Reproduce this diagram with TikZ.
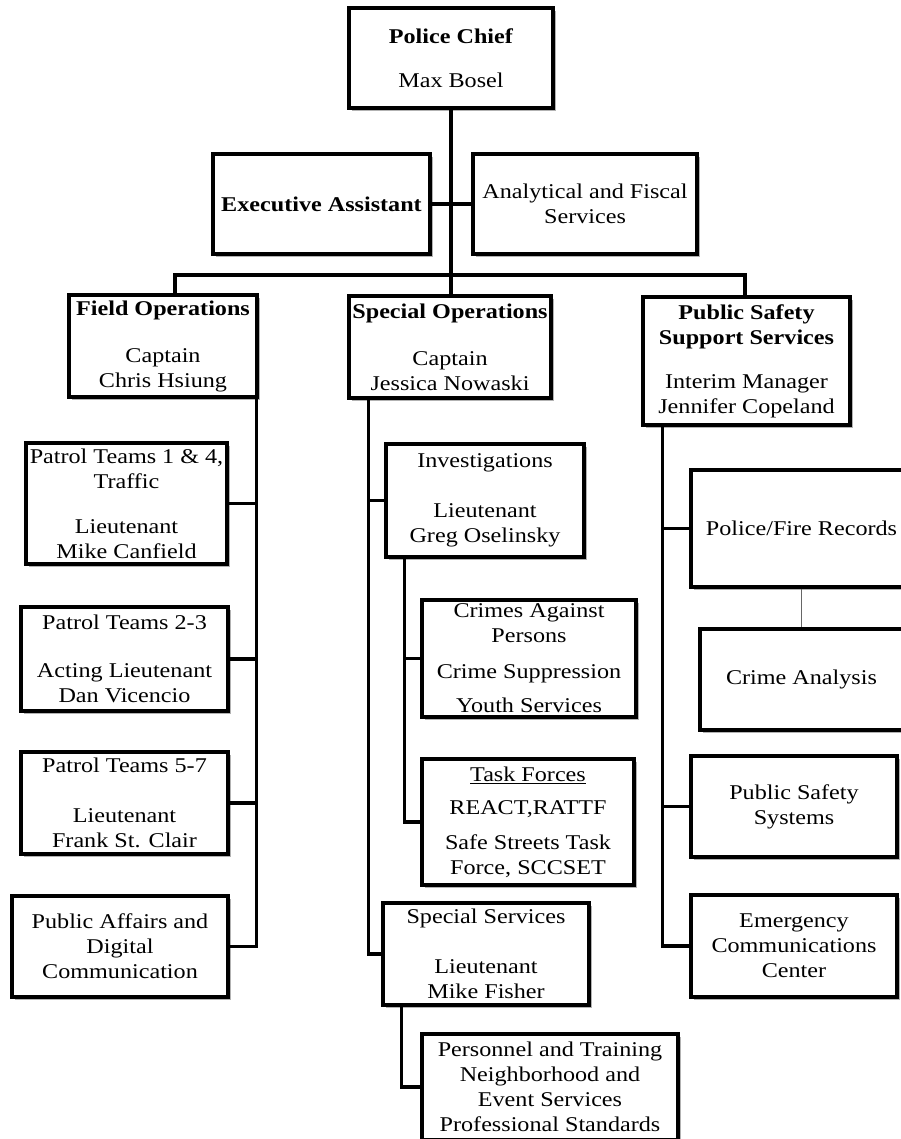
\documentclass[tikz,border=0pt]{standalone}
\usepackage{fontspec}
\setmainfont{Liberation Serif}[FakeStretch=1.15]
\usetikzlibrary{shadows}
\tikzset{
  box/.style={draw, line width=3.2pt, fill=white, inner sep=0pt, align=center,
    font=\fontsize{21}{25}\selectfont,
    drop shadow={shadow xshift=3pt, shadow yshift=-3pt, fill=black, opacity=0.3}},
  conn/.style={line width=3.2pt, line join=miter},
  thin/.style={line width=1.6pt, black!60}
}
\begin{document}
\begin{tikzpicture}[x=1pt,y=-1pt]
\clip (0,0) rectangle (901,1139);
\fill[white] (0,0) rectangle (901,1139);
% top
\node[box, minimum width=204, minimum height=100] (chief) at (451,58) {\textbf{Police Chief}\\[19pt]Max Bosel};
\node[box, minimum width=217, minimum height=100] (exec) at (321.5,204) {\textbf{Executive Assistant}};
\node[box, minimum width=224, minimum height=100] (anal) at (585,204) {Analytical and Fiscal\\Services};
% divisions
\node[box, minimum width=188, minimum height=102] (field) at (163,346) {\textbf{Field Operations}\\[22pt]Captain\\Chris Hsiung};
\node[box, minimum width=202, minimum height=102] (spec) at (450,347) {\textbf{Special Operations}\\[22pt]Captain\\Jessica Nowaski};
\node[box, minimum width=207, minimum height=128] (pss) at (746.5,361) {\textbf{Public Safety}\\\textbf{Support Services}\\[19pt]Interim Manager\\Jennifer Copeland};
% field operations
\node[box, minimum width=201, minimum height=121] (p14) at (126.5,503.5) {Patrol Teams 1 \& 4,\\Traffic\\[20pt]Lieutenant\\Mike Canfield};
\node[box, minimum width=207, minimum height=104] (p23) at (124.5,659) {Patrol Teams 2-3\\[23pt]Acting Lieutenant\\Dan Vicencio};
\node[box, minimum width=207, minimum height=102] (p57) at (124.5,803) {Patrol Teams 5-7\\[25pt]Lieutenant\\Frank St. Clair};
\node[box, minimum width=216, minimum height=101] (pa) at (120,946.5) {Public Affairs and\\Digital\\Communication};
% special operations
\node[box, minimum width=198, minimum height=113] (inv) at (485,500.5) {Investigations\\[25pt]Lieutenant\\Greg Oselinsky};
\node[box, minimum width=214, minimum height=117] (crimes) at (529,658.5) {Crimes Against\\Persons\\[11pt]Crime Suppression\\[9pt]Youth Services};
\node[box, minimum width=212, minimum height=126] (task) at (528,822) {\underline{Task Forces}\\[8pt]REACT,RATTF\\[10pt]Safe Streets Task\\Force, SCCSET};
\node[box, minimum width=206, minimum height=102] (sserv) at (486,954) {Special Services\\[25pt]Lieutenant\\Mike Fisher};
\node[box, minimum width=256, minimum height=106] (pers) at (550,1087) {Personnel and Training\\Neighborhood and\\Event Services\\Professional Standards};
% public safety support services
\node[box, minimum width=221, minimum height=117] (records) at (801.5,528.5) {Police/Fire Records};
\node[box, minimum width=203, minimum height=101] (crime) at (801.5,679.5) {Crime Analysis};
\node[box, minimum width=206, minimum height=101] (pssys) at (794,806.5) {Public Safety\\Systems};
\node[box, minimum width=206, minimum height=102] (emerg) at (794,946) {Emergency\\Communications\\Center};
% connectors
\draw[conn] (chief.south) -- (chief.south |- spec.north);
\draw[conn] (exec.east) -- (anal.west);
\coordinate (busL) at (175,275);
\coordinate (busR) at (745,275);
\draw[conn] (busL |- field.north) -- (busL) -- (busR) -- (busR |- pss.north);
% field trunk
\coordinate (ft) at ([xshift=-2pt]field.south east);
\draw[conn] (ft) -- (ft |- pa.east) -- (pa.east);
\foreach \n in {p14,p23,p57} \draw[conn] (\n.east) -- (\n.east -| ft);
% special trunk
\coordinate (st) at ([xshift=21pt]spec.south west);
\draw[conn] (st) -- (st |- sserv.west) -- (sserv.west);
\draw[conn] (inv.west) -- (inv.west -| st);
\coordinate (it) at ([xshift=20pt]inv.south west);
\draw[conn] (it) -- (it |- task.west) -- (task.west);
\draw[conn] (crimes.west) -- (crimes.west -| it);
\coordinate (sst) at ([xshift=20pt]sserv.south west);
\draw[conn] (sst) -- (sst |- pers.west) -- (pers.west);
% public safety trunk
\coordinate (pt) at ([xshift=21pt]pss.south west);
\draw[conn] (pt) -- (pt |- emerg.west) -- (emerg.west);
\draw[conn] (records.west) -- (records.west -| pt);
\draw[conn] (pssys.west) -- (pssys.west -| pt);
\draw[thin] (records.south) -- (crime.north);
\end{tikzpicture}
\end{document}
